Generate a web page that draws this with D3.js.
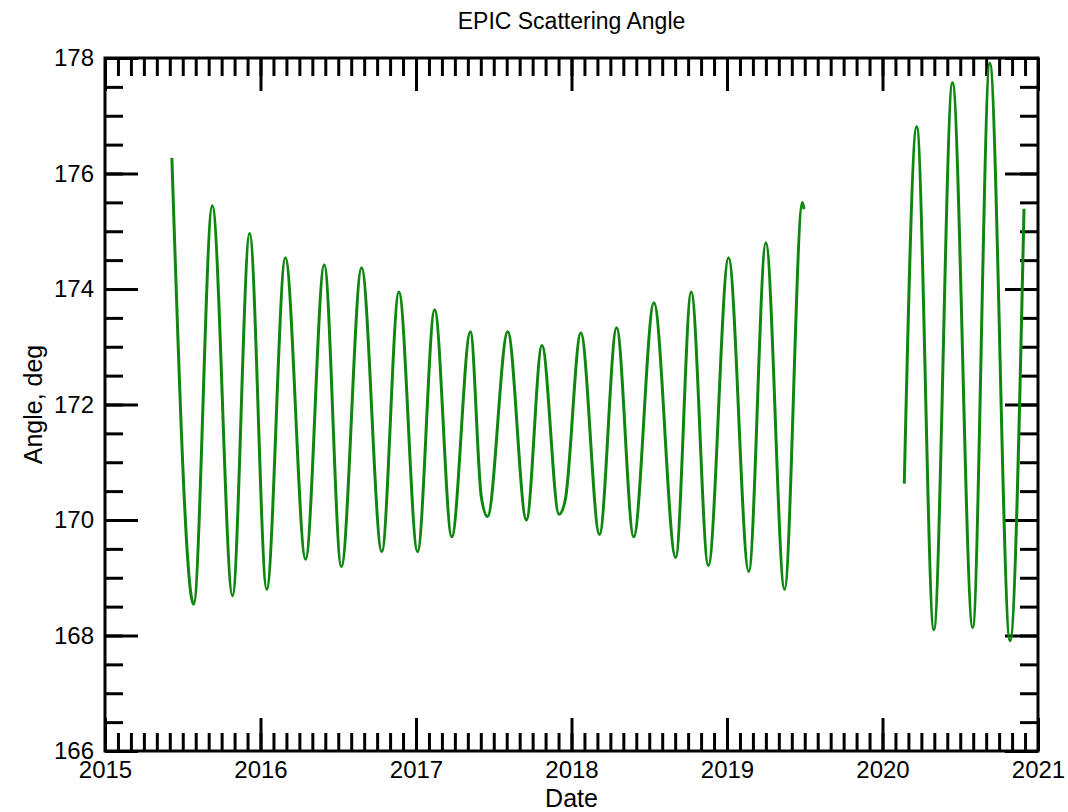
<!DOCTYPE html>
<html>
<head>
<meta charset="utf-8">
<script src="https://cdn.jsdelivr.net/npm/d3@7"></script>
<style>
  body { margin: 0; background: #fff; }
  text { font-family: "Liberation Sans", Arial, Helvetica, sans-serif; fill: #000; }
</style>
</head>
<body>
<div id="chart"></div>
<script>
// EPIC scattering angle, two observation segments (decimal years / degrees)
const dates1 = [2015.43, 2015.57, 2015.69, 2015.82, 2015.93, 2016.04, 2016.16, 2016.29,
  2016.41, 2016.52, 2016.65, 2016.78, 2016.89, 2017.01, 2017.12, 2017.23, 2017.35,
  2017.42, 2017.46, 2017.59, 2017.71, 2017.81, 2017.92, 2017.96, 2018.06, 2018.18,
  2018.29, 2018.40, 2018.53, 2018.67, 2018.77, 2018.88, 2019.01, 2019.14, 2019.25,
  2019.37, 2019.485, 2019.495];
const angles1 = [176.27, 168.54, 175.44, 168.69, 174.96, 168.80, 174.54, 169.32,
  174.42, 169.19, 174.37, 169.45, 173.95, 169.45, 173.64, 169.71, 173.26,
  170.40, 170.06, 173.26, 170.00, 173.02, 170.10, 170.35, 173.24, 169.75,
  173.33, 169.71, 173.76, 169.35, 173.95, 169.21, 174.54, 169.11, 174.80,
  168.80, 175.50, 175.38];

const dates2 = [2020.14, 2020.22, 2020.33, 2020.45, 2020.58, 2020.69, 2020.82, 2020.91];
const angles2 = [170.63, 176.81, 168.10, 177.57, 168.14, 177.91, 167.91, 175.39];

const yearTicks = [2015, 2016, 2017, 2018, 2019, 2020, 2021];
const angleTicks = [166, 168, 170, 172, 174, 176, 178];

const W = 1068, H = 812;
const plotL = 105, plotR = 1038, plotT = 58, plotB = 751;

const svg = d3.select("#chart").append("svg")
  .attr("width", W)
  .attr("height", H);

const x = d3.scaleLinear().domain([2015, 2021]).range([plotL, plotR]);
const y = d3.scaleLinear().domain([166, 178]).range([plotB, plotT]);

const monthTicks = d3.range(2015, 2021.001, 1 / 12);
const halfDegTicks = d3.range(166, 178.001, 0.5);

function styleAxis(g) {
  g.select(".domain").remove();
  g.selectAll(".tick line").attr("stroke", "#000").attr("stroke-width", 3);
  g.selectAll(".tick text").style("font-size", "24px").attr("fill", "#000");
}

// minor ticks (inward on all four sides)
svg.append("g").attr("transform", `translate(0,${plotB})`)
  .call(d3.axisBottom(x).tickValues(monthTicks).tickSize(-18).tickFormat(""))
  .call(styleAxis);
svg.append("g").attr("transform", `translate(0,${plotT})`)
  .call(d3.axisTop(x).tickValues(monthTicks).tickSize(-18).tickFormat(""))
  .call(styleAxis);
svg.append("g").attr("transform", `translate(${plotL},0)`)
  .call(d3.axisLeft(y).tickValues(halfDegTicks).tickSize(-18).tickFormat(""))
  .call(styleAxis);
svg.append("g").attr("transform", `translate(${plotR},0)`)
  .call(d3.axisRight(y).tickValues(halfDegTicks).tickSize(-18).tickFormat(""))
  .call(styleAxis);

// major ticks with labels
svg.append("g").attr("transform", `translate(0,${plotB})`)
  .call(d3.axisBottom(x).tickValues(yearTicks).tickSize(-33).tickPadding(10).tickFormat(d3.format("d")))
  .call(styleAxis);
svg.append("g").attr("transform", `translate(0,${plotT})`)
  .call(d3.axisTop(x).tickValues(yearTicks).tickSize(-33).tickFormat(""))
  .call(styleAxis);
svg.append("g").attr("transform", `translate(${plotL},0)`)
  .call(d3.axisLeft(y).tickValues(angleTicks).tickSize(-33).tickPadding(11).tickFormat(d3.format("d")))
  .call(styleAxis);
svg.append("g").attr("transform", `translate(${plotR},0)`)
  .call(d3.axisRight(y).tickValues(angleTicks).tickSize(-33).tickFormat(""))
  .call(styleAxis);

// frame
svg.append("rect")
  .attr("x", plotL).attr("y", plotT)
  .attr("width", plotR - plotL).attr("height", plotB - plotT)
  .attr("fill", "none")
  .attr("stroke", "#000")
  .attr("stroke-width", 3);

// data lines
const line = d3.line()
  .x(d => x(d[0]))
  .y(d => y(d[1]))
  .curve(d3.curveMonotoneX);

[[dates1, angles1], [dates2, angles2]].forEach(([ds, as]) => {
  svg.append("path")
    .datum(d3.zip(ds, as))
    .attr("fill", "none")
    .attr("stroke", "#0f860f")
    .attr("stroke-width", 3)
    .attr("stroke-linejoin", "round")
    .attr("d", line);
});

// labels
svg.append("text")
  .attr("x", (plotL + plotR) / 2)
  .attr("y", 29)
  .attr("text-anchor", "middle")
  .style("font-size", "23px")
  .text("EPIC Scattering Angle");

svg.append("text")
  .attr("x", (plotL + plotR) / 2)
  .attr("y", 807)
  .attr("text-anchor", "middle")
  .style("font-size", "25px")
  .text("Date");

svg.append("text")
  .attr("transform", `translate(42,${(plotT + plotB) / 2}) rotate(-90)`)
  .attr("text-anchor", "middle")
  .style("font-size", "25px")
  .text("Angle, deg");
</script>
</body>
</html>
